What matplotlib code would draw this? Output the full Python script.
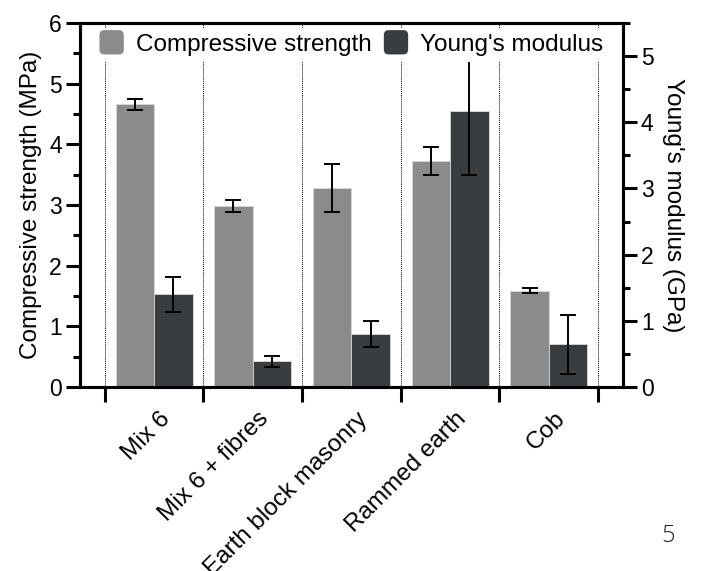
import matplotlib
matplotlib.use("Agg")
import matplotlib.pyplot as plt
import matplotlib.transforms as mtransforms
import numpy as np
from matplotlib.patches import FancyBboxPatch, Patch
from matplotlib.legend_handler import HandlerPatch
from matplotlib.ticker import MultipleLocator

plt.rcParams['font.family'] = ['Liberation Sans', 'DejaVu Sans']

materials = ["Mix 6", "Mix 6 + fibres", "Earth block masonry", "Rammed earth", "Cob"]
strength = [4.66, 2.98, 3.28, 3.73, 1.59]        # MPa
strength_err = [0.09, 0.10, 0.40, 0.23, 0.035]
modulus = [1.40, 0.39, 0.80, 4.17, 0.65]         # GPa
modulus_err = [0.26, 0.08, 0.20, 0.96, 0.445]

c_strength = "#8a8b8d"
c_modulus = "#3a3d40"


class RoundSquare(HandlerPatch):
    def create_artists(self, legend, orig_handle, xdescent, ydescent,
                       width, height, fontsize, trans):
        s = fontsize * 1.0
        x0 = -xdescent + (width - s) / 2
        y0 = -ydescent + (height - s) / 2
        p = FancyBboxPatch((x0 + 3, y0 + 3), s - 6, s - 6,
                           boxstyle="round,pad=3,rounding_size=3.5",
                           facecolor=orig_handle.get_facecolor(),
                           edgecolor="none", transform=trans)
        return [p]


fig = plt.figure(figsize=(7.05, 5.71), dpi=100)
ax = fig.add_axes([0.1135, 0.322, 0.770, 0.638])
ax2 = ax.twinx()

x = np.arange(len(materials))
w = 0.39
ekw = dict(ecolor="black", elinewidth=1.4, capsize=6, capthick=1.4)

ax.bar(x - w / 2, strength, w, color=c_strength, edgecolor="#d8d8d8",
       linewidth=0.6, zorder=2)
ax.errorbar(x - w / 2, strength, yerr=strength_err, fmt="none", zorder=3, **ekw)
ax2.bar(x + w / 2, modulus, w, color=c_modulus, edgecolor="#d8d8d8",
        linewidth=0.6, zorder=2)
ax2.errorbar(x + w / 2, modulus, yerr=modulus_err, fmt="none", zorder=3, **ekw)

# dotted separators between groups
for b in np.arange(-0.5, len(materials), 1.0):
    ax.axvline(b, color="black", lw=0.7, ls=(0, (1, 1)), zorder=1)

ax.set_xlim(-0.75, 4.75)
ax.set_ylim(0, 6)
ax2.set_ylim(0, 5.5)

ax.yaxis.set_major_locator(MultipleLocator(1))
ax.yaxis.set_minor_locator(MultipleLocator(0.5))
ax2.yaxis.set_major_locator(MultipleLocator(1))
ax2.yaxis.set_minor_locator(MultipleLocator(0.5))

ax.set_xticks(np.arange(-0.5, len(materials), 1.0))
ax.set_xticklabels([])
ax.set_xticks(x, minor=True)
ax.set_xticklabels(materials, minor=True, rotation=45, ha="right",
                   rotation_mode="anchor", fontsize=17.5)
ax.tick_params(axis="x", which="minor", length=0, pad=15)
ax.tick_params(axis="x", which="major", length=11, width=2.2, direction="out")
shift = mtransforms.ScaledTranslation(5 / 100, 0, fig.dpi_scale_trans)
for lab in ax.get_xticklabels(minor=True):
    lab.set_transform(lab.get_transform() + shift)

ax.tick_params(axis="y", which="major", length=10, width=2.2, labelsize=16.5, pad=3)
ax.tick_params(axis="y", which="minor", length=5, width=2.2)
ax2.tick_params(axis="y", which="major", length=10, width=2.2, labelsize=16.5, pad=3)
ax2.tick_params(axis="y", which="minor", length=5, width=2.2)

for a in (ax, ax2):
    for sp in a.spines.values():
        sp.set_linewidth(2.2)

ax.set_ylabel("Compressive strength (MPa)", fontsize=17.5, labelpad=5)
ax2.set_ylabel("Young's modulus (GPa)", fontsize=17.5, rotation=270, labelpad=22)

handles = [Patch(facecolor=c_strength), Patch(facecolor=c_modulus)]
leg = ax2.legend(handles, ["Compressive strength", "Young's modulus"],
                 loc="upper center", bbox_to_anchor=(0.5, 1.0), ncol=2,
                 fontsize=17.5, frameon=True, fancybox=False, edgecolor="none",
                 framealpha=1, handlelength=1.0, handletextpad=0.5,
                 columnspacing=0.5, borderpad=0.25, borderaxespad=0.2,
                 handler_map={Patch: RoundSquare()})
leg.set_zorder(10)

fig.text(0.947, 0.062, "5", fontsize=17, family="Open Sans", fontweight="light",
         color="#222222", ha="center", va="center")

fig.savefig("out.png", dpi=100)
